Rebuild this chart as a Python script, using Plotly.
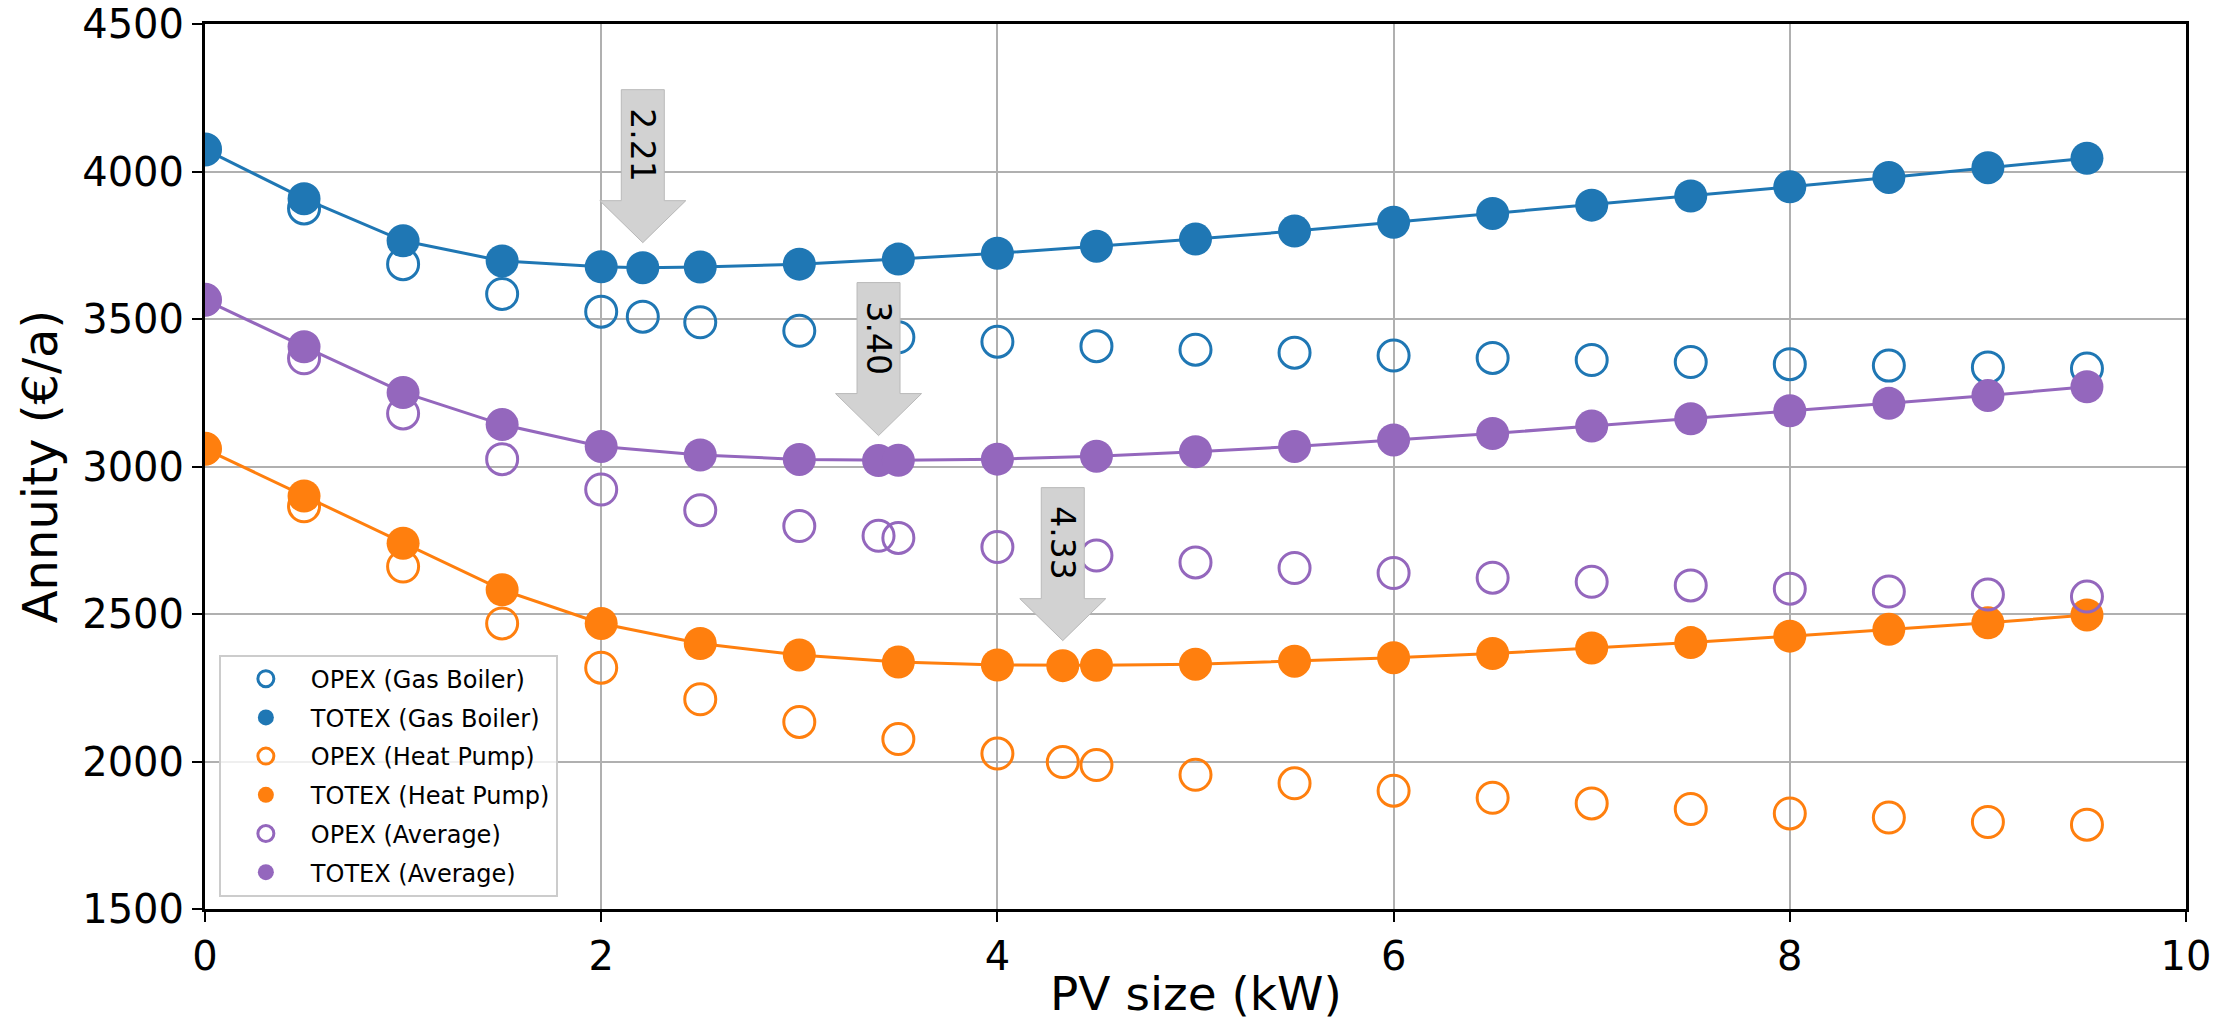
import plotly.graph_objects as go

# ---- data ----
gb_x = [0, 0.5, 1, 1.5, 2, 2.21, 2.5, 3, 3.5, 4, 4.5, 5, 5.5, 6, 6.5, 7, 7.5, 8, 8.5, 9, 9.5]
gb_totex = [4075, 3908, 3765, 3697, 3677, 3674, 3676, 3686, 3703, 3723, 3747, 3771, 3798, 3828,
            3858, 3886, 3917, 3948, 3980, 4013, 4045]
gb_opex = [4075, 3875, 3686, 3585, 3525, 3508, 3489, 3460, 3438, 3423, 3408, 3396, 3386, 3376,
           3368, 3361, 3354, 3347, 3342, 3336, 3332]

hp_x = [0, 0.5, 1, 1.5, 2, 2.5, 3, 3.5, 4, 4.33, 4.5, 5, 5.5, 6, 6.5, 7, 7.5, 8, 8.5, 9, 9.5]
hp_totex = [3060, 2900, 2740, 2582, 2468, 2400, 2361, 2337, 2327, 2325, 2326, 2330, 2340, 2352,
            2366, 2385, 2403, 2425, 2448, 2470, 2497]
hp_opex = [3060, 2865, 2661, 2468, 2318, 2211, 2134, 2076, 2027, 1998, 1988, 1955, 1926, 1901,
           1877, 1858, 1839, 1824, 1810, 1795, 1786]

av_x = [0, 0.5, 1, 1.5, 2, 2.5, 3, 3.4, 3.5, 4, 4.5, 5, 5.5, 6, 6.5, 7, 7.5, 8, 8.5, 9, 9.5]
av_totex = [3565, 3406, 3251, 3142, 3068, 3039, 3024, 3020, 3021, 3025, 3035, 3050, 3068, 3090,
            3112, 3137, 3162, 3189, 3214, 3241, 3270]
av_opex = [3565, 3367, 3180, 3025, 2922, 2852, 2798, 2765, 2758, 2727, 2698, 2675, 2656, 2639,
           2623, 2609, 2597, 2586, 2576, 2566, 2559]

opt_labels = ["2.21", "3.40", "4.33"]
opt_x = [2.21, 3.40, 4.33]

series_names = ["Gas Boiler", "Heat Pump", "Average"]
colors = ["#1f77b4", "#ff7f0e", "#9467bd"]

y_ticks = [1500, 2000, 2500, 3000, 3500, 4000, 4500]
x_ticks = [0, 2, 4, 6, 8, 10]

x_title = "PV size (kW)"
y_title = "Annuity (€/a)"

FONT = "DejaVu Sans"

fig = go.Figure()

series = [(gb_x, gb_opex, gb_totex), (hp_x, hp_opex, hp_totex), (av_x, av_opex, av_totex)]

# lines first (under markers)
for (xs, op, tot), c in zip(series, colors):
    fig.add_trace(go.Scatter(x=xs, y=tot, mode="lines", line=dict(color=c, width=3),
                             showlegend=False, hoverinfo="skip"))

for (xs, op, tot), c, name in zip(series, colors, series_names):
    fig.add_trace(go.Scatter(x=xs, y=op, mode="markers", name=f"OPEX ({name})",
                             legendgroup=f"opex_{name}",
                             marker=dict(symbol="circle-open", size=31, color=c,
                                         line=dict(color=c, width=3))))
    fig.add_trace(go.Scatter(x=xs, y=tot, mode="markers", name=f"TOTEX ({name})",
                             legendgroup=f"totex_{name}",
                             marker=dict(symbol="circle", size=33, color=c,
                                         line=dict(width=0))))

# optimum arrows (gray fat arrows pointing down to TOTEX minimum)
opt_series = [(gb_x, gb_totex), (av_x, av_totex), (hp_x, hp_totex)]
gap, head_h, body_h, head_w, body_w = 25, 42, 111, 43, 21.5
for lab, ox, (xs, tot) in zip(opt_labels, opt_x, opt_series):
    oy = tot[xs.index(ox)]
    path = (f"M 0,{gap} L {-head_w},{gap + head_h} L {-body_w},{gap + head_h} "
            f"L {-body_w},{gap + head_h + body_h} L {body_w},{gap + head_h + body_h} "
            f"L {body_w},{gap + head_h} L {head_w},{gap + head_h} Z")
    fig.add_shape(type="path", xref="x", yref="y", xsizemode="pixel", ysizemode="pixel",
                  xanchor=ox, yanchor=oy, path=path,
                  fillcolor="rgb(210,210,210)", line=dict(color="rgb(185,185,185)", width=1),
                  layer="above")
    fig.add_annotation(x=ox, y=oy, xref="x", yref="y", text=lab, showarrow=False,
                       textangle=90, yshift=gap + head_h + body_h / 2,
                       font=dict(family=FONT, size=33, color="black"))

# x-axis title placed below the tick labels
fig.add_annotation(x=0.5, y=0, xref="paper", yref="paper", text=x_title, showarrow=False,
                   yanchor="middle", yshift=-84, font=dict(family=FONT, size=47, color="black"))

axis_common = dict(showline=True, linecolor="black", linewidth=3, mirror=True,
                   ticks="outside", ticklen=10, tickwidth=2, tickcolor="black",
                   showgrid=True, gridcolor="#b0b0b0", gridwidth=2, zeroline=False,
                   automargin=False,
                   tickfont=dict(family=FONT, size=40, color="black"))

fig.update_layout(
    width=2239, height=1022, autosize=False,
    margin=dict(l=205, r=53, t=24, b=113),
    paper_bgcolor="white", plot_bgcolor="white",
    font=dict(family=FONT, color="black"),
    xaxis=dict(range=[0, 10], tickvals=x_ticks, ticktext=[str(v) for v in x_ticks],
               **axis_common),
    yaxis=dict(range=[1500, 4500], tickvals=y_ticks, ticktext=[str(v) for v in y_ticks],
               title=dict(text=y_title, font=dict(family=FONT, size=48), standoff=10),
               **axis_common),
    legend=dict(x=0.007, y=0.014, xanchor="left", yanchor="bottom",
                bgcolor="rgba(255,255,255,0.8)", bordercolor="#cccccc", borderwidth=2,
                font=dict(family=FONT, size=24, color="black"), itemsizing="trace",
                itemwidth=80, tracegroupgap=4.5, traceorder="grouped"),
    showlegend=True,
)

fig.write_html("out.html")
